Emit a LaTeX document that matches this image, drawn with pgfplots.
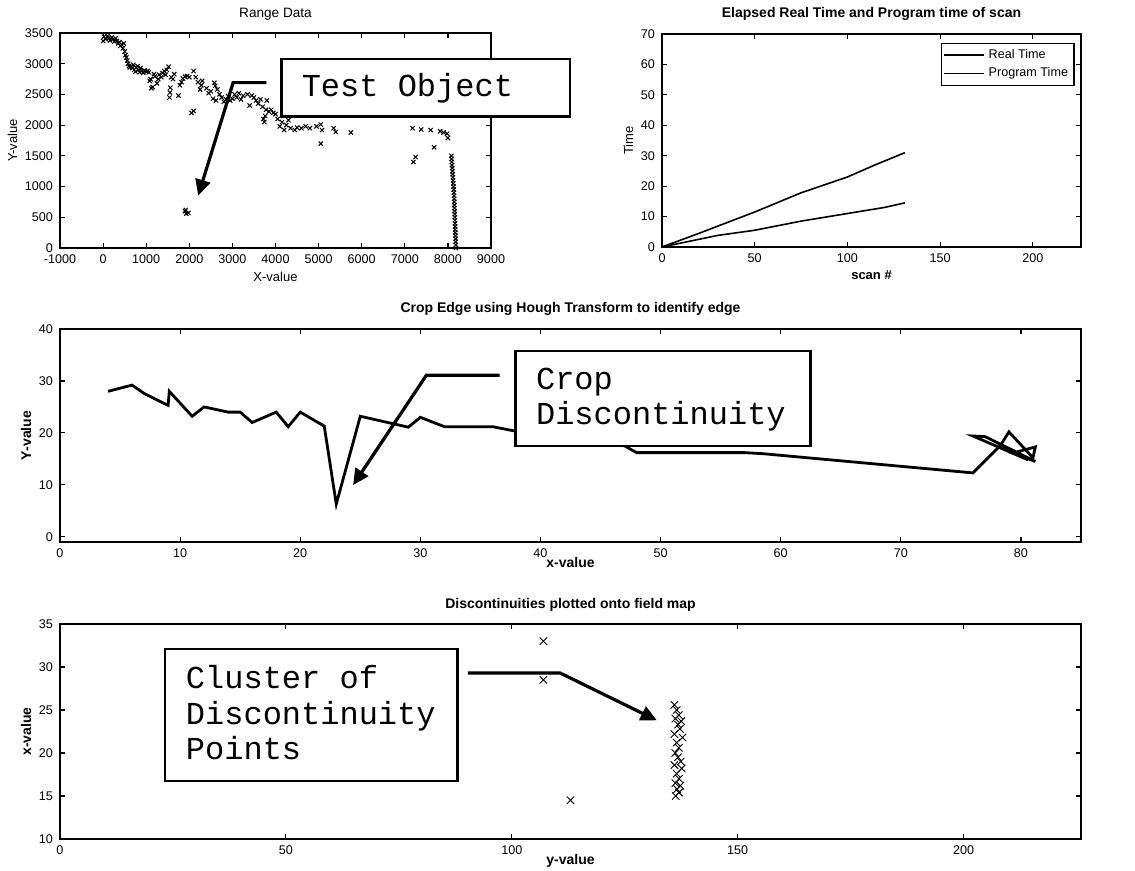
\documentclass[border=0pt]{standalone}
\usepackage{fontspec}
\setmainfont{Liberation Sans}
\newfontfamily\mono{Liberation Mono}
\usepackage{pgfplots}
\pgfplotsset{compat=1.18}
\usetikzlibrary{arrows.meta}

\pgfplotsset{mat/.style={scale only axis, anchor=south west, clip=false,
    axis line style={line width=0.8pt}, tick align=inside, major tick length=2.5pt,
    tick style={line width=0.6pt, black},
    ticklabel style={font=\fontsize{6.3}{7}\selectfont},
    /pgf/number format/assume math mode=true,
    /pgf/number format/set thousands separator={},
    label style={font=\fontsize{6.5}{7}\selectfont},
    title style={font=\fontsize{7}{8}\selectfont\bfseries, yshift=-3pt},
    xlabel style={yshift=3pt}, ylabel style={yshift=-3pt}}}
\tikzset{boxed/.style={line width=1.3pt, fill=white},
  callout/.style={line width=1.6pt, -{Triangle[length=8pt,width=7.5pt]}},
  callfont/.style={anchor=base west, inner sep=0pt, font=\mono\fontsize{16}{18}\selectfont}}

\begin{document}
\begin{tikzpicture}
\useasboundingbox (0,0) rectangle (567.5pt,435.5pt);

% range data
\begin{axis}[mat, at={(30pt,311.5pt)}, width=215.5pt, height=107.5pt,
    xmin=-1000, xmax=9000, ymin=0, ymax=3500,
    xtick={-1000,0,...,9000}, ytick={0,500,...,3500},
    title={Range Data}, title style={font=\fontsize{6.8}{8}\selectfont\mdseries},
    xlabel={X-value}, ylabel={Y-value}]
  \addplot[only marks, mark=x, mark size=1.5pt, mark options={line width=0.5pt}] coordinates {
    (0,3370)(20,3440)(60,3400)(100,3450)(130,3420)(160,3380)(200,3430)(230,3400)(260,3360)(290,3410)
    (320,3370)(350,3330)(380,3350)(400,3290)(430,3310)(460,3250)(480,3330)(500,3200)(520,3140)(540,3100)
    (560,3050)(580,3000)(600,2960)(620,2940)(650,2960)(680,2930)(700,2980)(720,2900)(750,2870)(770,2940)
    (800,2960)(820,2900)(850,2860)(870,2930)(900,2880)(930,2850)(960,2890)(1000,2870)(1030,2880)(1060,2860)
    (1080,2720)(1100,2750)(1120,2600)(1150,2620)(1180,2830)(1200,2790)(1250,2680)(1280,2750)(1300,2820)
    (1350,2780)(1380,2850)(1420,2880)(1450,2820)(1480,2900)(1520,2950)(1540,2450)(1550,2530)(1560,2610)
    (1580,2780)(1620,2750)(1650,2830)(1750,2480)(1780,2650)(1820,2700)(1850,2760)(1900,2790)(1950,2800)
    (2000,2780)(2050,2200)(2100,2230)(2100,2880)(2150,2780)(2200,2700)(2250,2580)(2280,2650)(2300,2720)
    (2400,2600)(2450,2520)(2500,2550)(2550,2430)(2580,2690)(2600,2640)(2620,2400)(2650,2580)(2700,2500)
    (2750,2450)(2800,2380)(2850,2420)(2900,2470)(2950,2400)(3000,2430)(3050,2500)(3100,2450)(3150,2520)
    (3200,2420)(3250,2480)(3350,2500)(3400,2320)(3450,2480)(3500,2450)(3550,2400)(3600,2350)(3650,2420)
    (3700,2300)(3720,2100)(3740,2050)(3760,2150)(3780,2250)(3800,2400)(3850,2220)(3900,2250)(3950,2200)
    (4000,2180)(4050,2100)(4100,1980)(4150,2050)(4200,1920)(4250,2000)(4300,2080)(4350,1950)(4450,1920)
    (4500,1960)(4600,1950)(4700,1980)(4800,1950)(4950,1980)(5050,2010)(5050,1700)(5080,1920)(5350,1950)
    (5400,1890)(5750,1880)
    (1900,600)(1930,560)(1980,570)(1920,620)
    (7180,1950)(7200,1400)(7250,1480)(7380,1930)(7600,1920)(7680,1640)(7820,1900)(7900,1880)(7980,1860)(8000,1790)
    (8080,1500)(8085,1450)(8090,1400)(8095,1350)(8100,1300)(8105,1250)(8110,1200)(8115,1150)(8120,1100)
    (8125,1050)(8130,1000)(8135,950)(8140,900)(8142,850)(8145,800)(8148,750)(8150,700)(8152,650)(8155,600)
    (8158,550)(8160,500)(8162,450)(8165,400)(8168,350)(8170,300)(8172,250)(8175,200)(8178,150)(8180,100)
    (8183,50)(8185,0)};
  \draw[boxed] (axis cs:4135,3077) rectangle (axis cs:10833,2143);
  \node[callfont] at (axis cs:4600,2473) {Test Object};
  \draw[callout] (axis cs:3790,2692) -- (axis cs:3017,2692) -- (axis cs:2206,852);
\end{axis}

% elapsed time
\begin{axis}[mat, at={(331pt,312pt)}, width=209.5pt, height=106.5pt,
    xmin=0, xmax=226, ymin=0, ymax=70,
    xtick={0,50,...,200}, ytick={0,10,...,70},
    title={Elapsed Real Time and Program time of scan},
    xlabel={\bfseries scan \#}, ylabel={Time},
    legend style={at={(rel axis cs:0.985,0.96)}, anchor=north east,
      font=\fontsize{6.3}{7}\selectfont, draw=black, line width=0.7pt,
      inner sep=1pt, row sep=-1pt, cells={anchor=west}},
    legend image code/.code={\draw[#1] (0cm,0cm) -- (0.7cm,0cm);}]
  \addplot[black, line width=0.8pt] coordinates {(0,0)(20,4.5)(50,11.5)(75,17.8)(100,23)(115,27)(131,31)};
  \addplot[black, line width=0.8pt] coordinates {(0,0)(30,3.8)(50,5.5)(75,8.5)(100,11)(120,13)(131,14.5)};
  \legend{Real Time, Program Time}
\end{axis}

% crop edge
\begin{axis}[mat, at={(30pt,164.5pt)}, width=510.5pt, height=106.5pt,
    xmin=0, xmax=85, ymin=-1, ymax=40,
    xtick={0,10,...,80}, ytick={0,10,...,40},
    title={Crop Edge using Hough Transform to identify edge},
    label style={font=\fontsize{7}{7}\selectfont\bfseries},
    xlabel style={yshift=4pt},
    xlabel={x-value}, ylabel={Y-value}]
  \addplot[black, line width=1.4pt, line join=miter] coordinates {
    (4,28)(6,29.2)(7,27.6)(9,25.3)(9.1,28)(11,23.2)(12,25)(14,24)(15,24)(16,22)(18,24)(19,21.2)
    (20,24)(22,21.3)(23,6.3)(25,23.2)(29,21.1)(30,23)(32,21.2)(36,21.2)(38,20.3)(40,19.7)(44,18.5)
    (47,17.5)(48,16.2)(57,16.2)(58.5,16)(76,12.3)(78.3,17.6)(79,20.2)(81,15.2)(81.2,17.3)(79.3,16.1)
    (81.2,14.5)(77,19.3)(76,19.4)(80.6,14.8)};
  \draw[boxed] (axis cs:37.9,35.8) rectangle (axis cs:62.5,17.5);
  \node[callfont] at (axis cs:39.6,28.4) {Crop};
  \node[callfont] at (axis cs:39.6,21.6) {Discontinuity};
  \draw[callout] (axis cs:36.6,31.1) -- (axis cs:30.5,31.1) -- (axis cs:24.4,9.95);
\end{axis}

% discontinuities on field map
\begin{axis}[mat, at={(30pt,16pt)}, width=510.5pt, height=107.5pt,
    xmin=0, xmax=226, ymin=10, ymax=35,
    xtick={0,50,...,200}, ytick={10,15,...,35},
    title={Discontinuities plotted onto field map},
    label style={font=\fontsize{7}{7}\selectfont\bfseries},
    xlabel style={yshift=4pt},
    xlabel={y-value}, ylabel={x-value}]
  \addplot[only marks, mark=x, mark size=2.6pt, mark options={line width=0.45pt}] coordinates {
    (107,33)(107,28.5)(113,14.5)
    (136.0,25.6)(136.5,25.0)(137.0,24.4)(136.2,24.0)(137.5,23.7)(136.8,23.3)(137.2,22.8)(136.0,22.2)
    (137.8,21.8)(136.5,21.2)(137.0,20.6)(136.2,20.0)(136.8,19.5)(137.4,19.0)(136.0,18.6)(137.6,18.2)
    (136.5,17.6)(137.0,17.0)(136.2,16.5)(137.3,16.2)(136.6,15.8)(137.0,15.4)(136.3,15.0)};
  \draw[boxed] (axis cs:23.2,32.1) rectangle (axis cs:88,16.75);
  \node[callfont] at (axis cs:27.8,27.5) {Cluster of};
  \node[callfont] at (axis cs:27.8,23.3) {Discontinuity};
  \node[callfont] at (axis cs:27.8,19.2) {Points};
  \draw[callout] (axis cs:90.3,29.3) -- (axis cs:110.7,29.3) -- (axis cs:132.1,23.8);
\end{axis}
\end{tikzpicture}
\end{document}
